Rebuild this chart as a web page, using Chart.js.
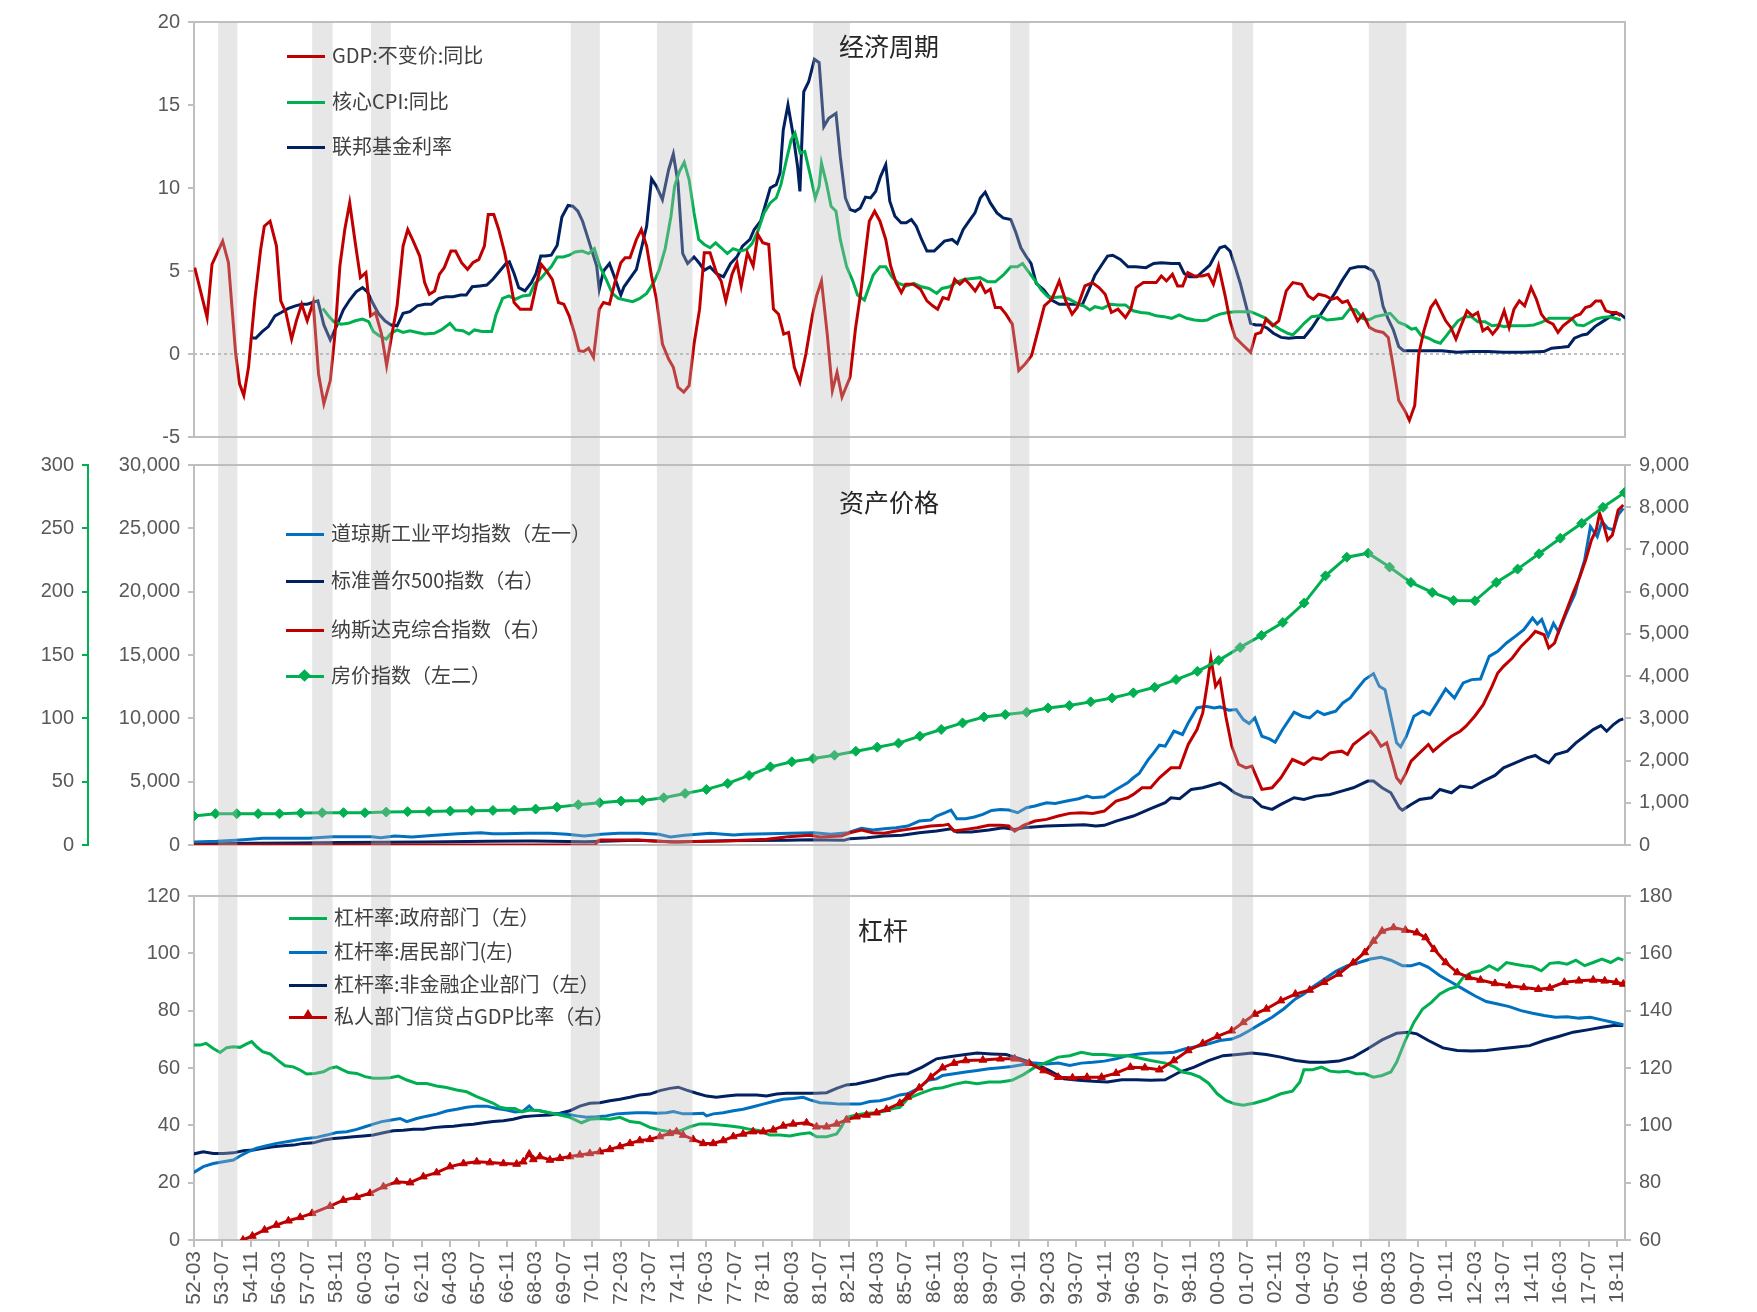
<!DOCTYPE html>
<html>
<head>
<meta charset="utf-8">
<script src="https://cdn.jsdelivr.net/npm/chart.js@4.4.0/dist/chart.umd.min.js"></script>
<style>
  body { margin: 0; background: #fff; width: 1757px; height: 1312px; position: relative; overflow: hidden;
         font-family: "Noto Sans CJK SC", "Liberation Sans", sans-serif; }
  canvas { position: absolute; left: 0; }
  .lg { position: absolute; font-size: 20px; color: #404040; white-space: nowrap; line-height: 24px; }
  .lg i { display: inline-block; width: 38px; height: 3px; vertical-align: middle; margin-right: 7px; position: relative; top: -1px; }
  .lg i b.dia { position: absolute; left: 14px; top: -4px; width: 9px; height: 9px; transform: rotate(45deg); background: #00b050; }
  .lg i b.tri { position: absolute; left: 13px; top: -7px; width: 0; height: 0; border-left: 6px solid transparent;
                border-right: 6px solid transparent; border-bottom: 10px solid #c00000; }
  .ttl { position: absolute; font-size: 25px; color: #262626; transform: translate(-50%, -50%); white-space: nowrap; }
</style>
</head>
<body>
<canvas id="c1" width="1757" height="460" style="top:0"></canvas>
<canvas id="c2" width="1757" height="430" style="top:440px"></canvas>
<canvas id="c3" width="1757" height="452" style="top:860px"></canvas>

<div class="ttl" style="left:889px;top:45px">经济周期</div>
<div class="lg" style="left:287px;top:43px"><i style="background:#c00000"></i>GDP:不变价:同比</div>
<div class="lg" style="left:287px;top:89px"><i style="background:#00b050"></i>核心CPI:同比</div>
<div class="lg" style="left:287px;top:134px"><i style="background:#002060"></i>联邦基金利率</div>

<div class="ttl" style="left:889px;top:501px">资产价格</div>
<div class="lg" style="left:286px;top:521px"><i style="background:#0070c0"></i>道琼斯工业平均指数（左一）</div>
<div class="lg" style="left:286px;top:568px"><i style="background:#002060"></i>标准普尔500指数（右）</div>
<div class="lg" style="left:286px;top:617px"><i style="background:#c00000"></i>纳斯达克综合指数（右）</div>
<div class="lg" style="left:286px;top:663px"><i style="background:#00b050"><b class="dia"></b></i>房价指数（左二）</div>

<div class="ttl" style="left:883px;top:929px">杠杆</div>
<div class="lg" style="left:289px;top:905px"><i style="background:#00b050"></i>杠杆率:政府部门（左）</div>
<div class="lg" style="left:289px;top:939px"><i style="background:#0070c0"></i>杠杆率:居民部门(左)</div>
<div class="lg" style="left:289px;top:972px"><i style="background:#002060"></i>杠杆率:非金融企业部门（左）</div>
<div class="lg" style="left:289px;top:1004px"><i style="background:#c00000"><b class="tri"></b></i>私人部门信贷占GDP比率（右）</div>

<script>
// x axis tick labels (every 16 months) and shaded recession periods (decimal years)
const xLabels = ['52-03','53-07','54-11','56-03','57-07','58-11','60-03','61-07','62-11','64-03','65-07','66-11',
  '68-03','69-07','70-11','72-03','73-07','74-11','76-03','77-07','78-11','80-03','81-07','82-11','84-03','85-07',
  '86-11','88-03','89-07','90-11','92-03','93-07','94-11','96-03','97-07','98-11','00-03','01-07','02-11','04-03',
  '05-07','06-11','08-03','09-07','10-11','12-03','13-07','14-11','16-03','17-07','18-11'];
const recessions = [[1953.30,1954.20],[1957.70,1958.66],[1960.46,1961.38],[1969.82,1971.18],[1973.85,1975.52],
  [1981.17,1982.89],[1990.40,1991.30],[2000.80,2001.78],[2007.20,2008.96]];

// 经济周期 (%)
const gdp = [[1952.2,5.2],[1952.78,2.2],[1953.01,5.4],[1953.51,6.8],[1953.78,5.5],[1954.12,0],[1954.3,-1.8],[1954.5,-2.5],[1954.72,-0.8],[1955.02,3.3],[1955.29,6.3],[1955.46,7.7],[1955.73,8.0],[1956.03,6.5],[1956.23,3.2],[1956.47,2.5],[1956.74,0.9],[1956.96,2.0],[1957.21,3.0],[1957.47,2.0],[1957.75,3.1],[1958.0,-1.2],[1958.25,-3.0],[1958.55,-1.6],[1958.77,1.2],[1959.0,5.3],[1959.23,7.5],[1959.46,9.1],[1959.72,6.7],[1959.96,4.6],[1960.22,4.9],[1960.44,2.3],[1960.67,2.5],[1960.95,1.2],[1961.19,-0.7],[1961.44,1.2],[1961.68,2.9],[1961.96,6.5],[1962.18,7.5],[1962.4,6.9],[1962.74,5.9],[1962.97,4.3],[1963.19,3.6],[1963.44,3.8],[1963.66,4.8],[1963.89,5.2],[1964.2,6.2],[1964.42,6.2],[1964.7,5.5],[1964.98,5.1],[1965.23,5.5],[1965.51,5.7],[1965.77,6.5],[1965.95,8.4],[1966.21,8.4],[1966.44,7.5],[1966.72,6.1],[1966.94,4.7],[1967.16,3.1],[1967.45,2.7],[1967.72,2.7],[1967.95,2.7],[1968.19,4.1],[1968.43,5.4],[1968.68,5.0],[1968.95,4.5],[1969.24,3.1],[1969.49,3.0],[1969.74,2.3],[1969.98,1.3],[1970.2,0.2],[1970.42,0.15],[1970.65,0.35],[1970.88,-0.2],[1971.15,2.7],[1971.35,3.1],[1971.63,3.0],[1971.88,4.3],[1972.16,5.5],[1972.36,5.8],[1972.59,5.8],[1972.89,6.9],[1973.12,7.5],[1973.37,6.5],[1973.6,4.7],[1973.83,3.3],[1974.11,0.6],[1974.4,-0.3],[1974.62,-0.8],[1974.84,-2.0],[1975.11,-2.3],[1975.36,-1.9],[1975.59,0.6],[1975.85,2.7],[1976.07,6.1],[1976.34,6.1],[1976.64,4.9],[1976.86,4.4],[1977.08,3.2],[1977.37,4.8],[1977.6,5.5],[1977.8,4.1],[1978.09,6.1],[1978.36,5.3],[1978.58,7.2],[1978.81,6.7],[1979.09,6.6],[1979.31,2.7],[1979.55,2.4],[1979.79,1.2],[1980.02,1.3],[1980.29,-0.8],[1980.55,-1.7],[1980.83,0],[1981.13,2.3],[1981.33,3.5],[1981.56,4.4],[1981.83,1.2],[1982.07,-2.2],[1982.29,-1.1],[1982.52,-2.6],[1982.9,-1.4],[1983.15,1.5],[1983.4,3.7],[1983.6,5.9],[1983.8,8.0],[1984.05,8.6],[1984.3,8.0],[1984.57,6.9],[1984.8,5.3],[1985.05,4.3],[1985.3,3.7],[1985.5,4.2],[1985.87,4.2],[1986.2,3.9],[1986.5,3.2],[1986.77,2.9],[1987.0,2.7],[1987.25,3.4],[1987.5,3.3],[1987.8,4.5],[1988.04,4.2],[1988.28,4.5],[1988.5,4.2],[1988.76,3.8],[1989.0,4.3],[1989.24,3.7],[1989.47,3.9],[1989.7,2.8],[1989.95,2.8],[1990.2,2.4],[1990.5,1.8],[1990.8,-1.0],[1991.1,-0.6],[1991.4,-0.1],[1991.7,1.4],[1992.0,2.9],[1992.35,3.3],[1992.7,4.4],[1993.0,3.2],[1993.3,2.4],[1993.54,2.8],[1993.9,4.1],[1994.25,4.3],[1994.56,4.0],[1994.85,3.6],[1995.14,2.5],[1995.45,2.7],[1995.8,2.2],[1996.05,2.7],[1996.3,4.0],[1996.64,4.3],[1996.88,4.3],[1997.24,4.3],[1997.48,4.7],[1997.72,4.4],[1998.0,4.8],[1998.24,4.1],[1998.48,4.1],[1998.72,4.9],[1999.03,4.7],[1999.4,4.7],[1999.68,4.8],[1999.92,4.2],[2000.16,5.3],[2000.47,3.5],[2000.7,2.0],[2000.94,1.0],[2001.25,0.6],[2001.66,0.1],[2001.9,1.2],[2002.14,1.3],[2002.38,2.1],[2002.7,1.7],[2002.98,2.0],[2003.33,3.8],[2003.64,4.3],[2004.05,4.2],[2004.36,3.5],[2004.6,3.3],[2004.84,3.6],[2005.17,3.5],[2005.48,3.3],[2005.72,3.4],[2005.96,3.1],[2006.2,3.2],[2006.49,2.5],[2006.68,2.0],[2006.92,2.4],[2007.23,1.6],[2007.52,1.4],[2007.87,1.3],[2008.11,1.0],[2008.35,-0.8],[2008.6,-2.8],[2008.88,-3.4],[2009.1,-4.0],[2009.35,-3.1],[2009.54,0.0],[2009.78,1.4],[2010.1,2.8],[2010.33,3.2],[2010.57,2.6],[2010.8,2.0],[2011.04,1.6],[2011.28,0.9],[2011.52,1.7],[2011.8,2.6],[2012.05,2.3],[2012.3,2.5],[2012.54,1.4],[2012.77,1.6],[2013.0,1.2],[2013.25,1.6],[2013.54,2.6],[2013.77,1.6],[2014.0,2.7],[2014.25,3.2],[2014.5,2.9],[2014.8,4.0],[2015.05,3.3],[2015.28,2.4],[2015.52,2.0],[2015.83,1.8],[2016.06,1.3],[2016.3,1.7],[2016.6,2.0],[2016.88,2.3],[2017.1,2.4],[2017.35,2.8],[2017.6,2.9],[2017.83,3.2],[2018.07,3.2],[2018.3,2.6],[2018.55,2.5],[2018.8,2.5],[2019.0,2.3]];
const coreCpi = [[1958.2,2.75],[1958.49,2.25],[1958.71,1.95],[1959.06,1.8],[1959.39,1.85],[1959.72,2.0],[1960.06,2.1],[1960.35,1.95],[1960.57,1.35],[1960.84,1.1],[1961.17,0.9],[1961.4,1.25],[1961.68,1.45],[1961.96,1.3],[1962.28,1.4],[1962.63,1.3],[1962.97,1.2],[1963.42,1.25],[1963.75,1.45],[1964.16,1.85],[1964.42,1.45],[1964.76,1.4],[1965.05,1.2],[1965.3,1.45],[1965.66,1.35],[1966.11,1.35],[1966.31,2.35],[1966.62,3.35],[1966.92,3.5],[1967.22,3.3],[1967.56,3.5],[1967.89,3.55],[1968.13,4.25],[1968.41,4.55],[1968.68,4.95],[1968.9,5.25],[1969.18,5.85],[1969.47,5.85],[1969.74,5.95],[1970.02,6.15],[1970.35,6.2],[1970.65,6.05],[1970.92,6.35],[1971.19,5.25],[1971.49,4.45],[1971.76,3.65],[1972.04,3.35],[1972.36,3.25],[1972.72,3.15],[1973.05,3.35],[1973.37,3.65],[1973.72,4.35],[1973.95,5.05],[1974.24,6.35],[1974.51,8.3],[1974.68,10.1],[1974.91,11.0],[1975.13,11.55],[1975.36,10.5],[1975.59,8.5],[1975.81,6.9],[1976.07,6.6],[1976.34,6.4],[1976.6,6.7],[1976.86,6.4],[1977.15,6.05],[1977.42,6.35],[1977.75,6.2],[1978.05,6.3],[1978.31,6.65],[1978.58,7.4],[1978.87,8.5],[1979.16,9.1],[1979.44,9.4],[1979.66,10.2],[1979.92,11.7],[1980.14,12.9],[1980.32,13.3],[1980.56,12.1],[1980.78,12.2],[1981.05,10.7],[1981.27,9.4],[1981.45,10.1],[1981.56,11.5],[1981.79,10.3],[1982.01,8.9],[1982.24,8.6],[1982.44,6.9],[1982.74,5.25],[1983.01,4.45],[1983.25,3.55],[1983.57,3.25],[1983.98,4.75],[1984.29,5.25],[1984.57,5.25],[1984.86,4.65],[1985.17,4.25],[1985.53,4.1],[1985.89,4.25],[1986.25,4.05],[1986.6,3.95],[1986.96,3.65],[1987.2,3.95],[1987.56,4.05],[1987.92,4.35],[1988.28,4.5],[1988.63,4.55],[1988.99,4.6],[1989.35,4.35],[1989.7,4.35],[1990.07,4.75],[1990.43,5.25],[1990.74,5.25],[1990.98,5.45],[1991.26,4.95],[1991.55,4.45],[1991.86,3.85],[1992.17,3.45],[1992.46,3.4],[1992.82,3.45],[1993.17,3.3],[1993.53,3.05],[1993.84,2.9],[1994.13,2.65],[1994.37,2.85],[1994.73,2.75],[1995.1,3.0],[1995.45,2.95],[1995.8,2.95],[1996.16,2.6],[1996.52,2.5],[1996.88,2.45],[1997.24,2.3],[1997.6,2.25],[1997.96,2.15],[1998.32,2.35],[1998.67,2.15],[1999.03,2.05],[1999.4,2.0],[1999.63,2.05],[1999.92,2.25],[2000.23,2.4],[2000.58,2.5],[2000.94,2.55],[2001.3,2.55],[2001.66,2.55],[2002.02,2.35],[2002.38,2.15],[2002.73,1.75],[2003.09,1.45],[2003.4,1.25],[2003.64,1.15],[2003.88,1.45],[2004.17,1.85],[2004.52,2.25],[2004.88,2.3],[2005.24,2.05],[2005.6,2.1],[2005.96,2.15],[2006.3,2.7],[2006.6,2.65],[2006.9,2.15],[2007.2,2.05],[2007.5,2.25],[2007.87,2.35],[2008.2,2.45],[2008.6,1.9],[2008.9,1.75],[2009.2,1.5],[2009.4,1.55],[2009.66,1.1],[2010.0,0.95],[2010.3,0.75],[2010.55,0.65],[2010.8,1.05],[2011.1,1.55],[2011.38,2.0],[2011.7,2.25],[2012.0,2.25],[2012.3,1.95],[2012.65,1.95],[2012.97,1.7],[2013.25,1.75],[2013.54,1.65],[2013.85,1.7],[2014.2,1.7],[2014.56,1.7],[2014.92,1.75],[2015.28,1.9],[2015.64,2.15],[2016.0,2.15],[2016.35,2.15],[2016.7,2.15],[2016.95,1.75],[2017.26,1.7],[2017.55,1.9],[2017.83,2.1],[2018.14,2.2],[2018.46,2.25],[2018.74,2.15],[2019.0,2.05]];
const fedFunds = [[1954.79,1.0],[1955.06,0.95],[1955.36,1.35],[1955.65,1.65],[1955.96,2.3],[1956.25,2.5],[1956.59,2.75],[1956.92,2.9],[1957.21,3.0],[1957.47,3.0],[1957.82,3.15],[1957.97,3.2],[1958.25,1.75],[1958.55,0.85],[1958.87,1.75],[1959.16,2.65],[1959.46,3.25],[1959.76,3.75],[1960.06,4.0],[1960.29,3.75],[1960.51,3.15],[1960.8,2.45],[1961.11,2.0],[1961.4,1.75],[1961.68,1.7],[1961.96,2.45],[1962.28,2.55],[1962.63,2.9],[1962.97,3.0],[1963.29,3.0],[1963.64,3.35],[1963.97,3.45],[1964.3,3.45],[1964.65,3.55],[1964.92,3.55],[1965.2,4.05],[1965.55,4.1],[1965.88,4.15],[1966.17,4.5],[1966.49,5.0],[1966.78,5.45],[1966.94,5.55],[1967.16,4.85],[1967.38,4.0],[1967.67,3.8],[1967.97,4.3],[1968.19,4.85],[1968.41,5.9],[1968.63,5.9],[1968.9,5.95],[1969.18,6.55],[1969.4,8.25],[1969.69,8.95],[1969.91,8.9],[1970.15,8.6],[1970.37,8.0],[1970.59,7.1],[1970.81,6.2],[1971.03,5.3],[1971.15,3.9],[1971.35,5.0],[1971.63,5.45],[1971.86,4.65],[1972.16,3.55],[1972.31,4.05],[1972.59,4.55],[1972.89,5.1],[1973.16,6.55],[1973.37,7.7],[1973.6,10.55],[1973.83,10.1],[1974.11,9.3],[1974.4,11.1],[1974.62,12.05],[1974.84,10.3],[1975.06,6.05],[1975.29,5.45],[1975.59,5.85],[1975.85,5.45],[1976.07,5.05],[1976.34,5.25],[1976.64,4.85],[1976.97,4.65],[1977.3,5.45],[1977.6,5.85],[1977.86,6.5],[1978.21,6.9],[1978.41,7.5],[1978.71,8.0],[1979.16,10.0],[1979.44,10.2],[1979.62,10.9],[1979.77,13.5],[1979.99,15.0],[1980.22,13.3],[1980.44,11.3],[1980.55,9.8],[1980.73,15.8],[1980.96,16.4],[1981.23,17.75],[1981.45,17.55],[1981.67,13.7],[1981.9,14.2],[1982.24,14.5],[1982.44,11.9],[1982.68,9.4],[1982.9,8.7],[1983.14,8.6],[1983.38,8.8],[1983.62,9.45],[1983.86,9.4],[1984.1,9.8],[1984.33,10.7],[1984.57,11.4],[1984.76,9.2],[1985.0,8.3],[1985.29,7.9],[1985.53,7.9],[1985.77,8.1],[1986.0,7.7],[1986.25,6.9],[1986.5,6.2],[1986.84,6.2],[1987.08,6.5],[1987.32,6.8],[1987.68,6.9],[1987.92,6.65],[1988.2,7.5],[1988.52,8.1],[1988.75,8.5],[1989.0,9.4],[1989.23,9.75],[1989.47,9.1],[1989.78,8.5],[1990.07,8.2],[1990.43,8.1],[1990.67,7.3],[1990.9,6.4],[1991.14,5.9],[1991.38,5.45],[1991.62,4.25],[1991.98,3.85],[1992.34,3.25],[1992.7,3.0],[1993.17,3.0],[1993.53,3.0],[1993.77,2.95],[1994.08,3.85],[1994.37,4.75],[1994.73,5.45],[1994.96,5.9],[1995.2,5.95],[1995.56,5.7],[1995.92,5.25],[1996.28,5.25],[1996.76,5.2],[1997.12,5.45],[1997.48,5.5],[1997.96,5.45],[1998.32,5.45],[1998.55,4.85],[1998.79,4.65],[1999.15,4.65],[1999.44,5.0],[1999.75,5.35],[1999.98,5.9],[2000.22,6.4],[2000.46,6.5],[2000.7,6.2],[2000.94,5.25],[2001.18,4.25],[2001.42,3.05],[2001.66,1.85],[2001.9,1.75],[2002.14,1.75],[2002.45,1.55],[2002.73,1.25],[2003.09,1.0],[2003.45,0.95],[2003.81,1.0],[2004.17,1.0],[2004.52,1.55],[2004.88,2.25],[2005.24,2.95],[2005.6,3.65],[2005.96,4.45],[2006.32,5.15],[2006.68,5.25],[2007.04,5.25],[2007.4,5.0],[2007.64,4.35],[2007.87,2.85],[2008.11,2.1],[2008.35,1.45],[2008.6,0.45],[2008.83,0.2],[2009.2,0.2],[2009.9,0.2],[2010.62,0.2],[2011.34,0.1],[2012.05,0.15],[2012.77,0.15],[2013.49,0.1],[2014.44,0.1],[2015.4,0.15],[2015.76,0.35],[2016.23,0.4],[2016.54,0.45],[2016.83,0.95],[2017.2,1.15],[2017.43,1.2],[2017.79,1.65],[2018.15,1.95],[2018.5,2.25],[2018.74,2.45],[2018.98,2.4],[2019.22,2.15]];

// 资产价格
const dow = [[1952.17,236],[1953.24,290],[1954.32,395],[1955.4,525],[1956.47,525],[1957.54,525],[1958.62,657],[1959.42,657],[1960.5,657],[1960.9,578],[1961.58,709],[1962.38,630],[1963.46,762],[1964.53,893],[1965.61,972],[1966.15,893],[1966.68,893],[1967.76,919],[1968.83,919],[1969.64,840],[1970.45,709],[1971.25,840],[1972.06,919],[1973.13,919],[1973.94,840],[1974.48,630],[1975.15,762],[1976.36,919],[1977.44,788],[1977.97,840],[1979.05,893],[1980.12,919],[1981.2,972],[1982.0,840],[1982.8,972],[1983.43,1313],[1983.97,1182],[1984.5,1287],[1985.06,1366],[1985.6,1497],[1986.14,1891],[1986.68,1970],[1986.95,2285],[1987.36,2548],[1987.63,2758],[1987.9,2075],[1988.31,2075],[1988.72,2207],[1989.12,2417],[1989.53,2732],[1989.94,2811],[1990.34,2758],[1990.75,2548],[1991.16,2942],[1991.56,3074],[1992.1,3336],[1992.51,3284],[1993.05,3468],[1993.6,3651],[1994.0,3862],[1994.27,3730],[1994.81,3809],[1995.36,4387],[1995.9,4912],[1996.17,5306],[1996.44,5648],[1996.85,6699],[1997.12,7277],[1997.39,7881],[1997.66,7802],[1998.07,8984],[1998.47,8722],[1998.74,9641],[1999.15,10823],[1999.56,10955],[1999.96,10823],[2000.23,10902],[2000.64,10639],[2000.99,10692],[2001.32,9904],[2001.59,9589],[2001.86,10035],[2002.19,8590],[2002.54,8380],[2002.81,8117],[2003.16,9116],[2003.7,10482],[2004.08,10167],[2004.43,10035],[2004.79,10561],[2005.11,10298],[2005.65,10561],[2005.98,11217],[2006.33,11611],[2006.6,12216],[2007.01,13056],[2007.42,13529],[2007.69,12531],[2007.96,12268],[2008.23,10167],[2008.5,8065],[2008.69,7750],[2008.96,8590],[2009.31,10167],[2009.72,10561],[2010.05,10298],[2010.4,11217],[2010.8,12320],[2011.21,11611],[2011.62,12793],[2012.02,13056],[2012.43,13109],[2012.84,14895],[2013.24,15289],[2013.65,15946],[2014.06,16471],[2014.46,16996],[2014.87,17916],[2015.09,17450],[2015.3,17800],[2015.6,16500],[2015.85,17500],[2016.09,16800],[2016.4,18100],[2016.63,19000],[2016.85,19800],[2017.04,21000],[2017.31,22500],[2017.58,25140],[2017.9,24352],[2018.12,25534],[2018.39,25009],[2018.66,24878],[2018.88,26060],[2019.12,26585]];
const spx = [[1952.17,24],[1955,40],[1957,45],[1959,58],[1961,65],[1963,70],[1966,90],[1968,95],[1970.5,75],[1972.9,115],[1974.8,70],[1977,100],[1980,110],[1981,125],[1982.6,110],[1982.89,150],[1983.7,173],[1984.5,213],[1985.33,229],[1986.14,292],[1986.95,331],[1987.63,386],[1987.9,307],[1988.58,307],[1989.4,355],[1990.07,410],[1990.61,370],[1991.02,410],[1992.1,449],[1993.19,465],[1993.87,481],[1994.41,449],[1994.81,465],[1995.36,567],[1996.17,686],[1996.98,859],[1997.66,1001],[1997.93,1119],[1998.34,1095],[1998.88,1316],[1999.42,1355],[1999.96,1434],[2000.23,1474],[2000.5,1395],[2000.91,1237],[2001.32,1143],[2001.72,1119],[2002.19,906],[2002.67,843],[2003.08,961],[2003.7,1119],[2004.16,1080],[2004.71,1158],[2005.38,1198],[2005.93,1277],[2006.47,1355],[2007.15,1513],[2007.42,1513],[2007.82,1355],[2008.23,1237],[2008.63,883],[2008.77,827],[2009.18,961],[2009.58,1080],[2010.13,1119],[2010.53,1316],[2011.07,1237],[2011.48,1395],[2012.02,1355],[2012.56,1513],[2013.11,1647],[2013.51,1828],[2014.06,1946],[2014.6,2065],[2015.0,2120],[2015.28,2025],[2015.63,1946],[2015.95,2143],[2016.5,2222],[2016.9,2419],[2017.31,2577],[2017.71,2734],[2018.07,2829],[2018.34,2695],[2018.66,2853],[2018.93,2955],[2019.12,2987]];
const nasdaq = [[1952.17,0],[1970.95,0],[1971.1,100],[1971.2,118],[1973,118],[1974.5,70],[1975,79],[1977,95],[1979,134],[1980,197],[1981,229],[1981.5,189],[1982.5,213],[1982.89,290],[1983.43,355],[1983.97,292],[1984.5,276],[1985.06,331],[1985.6,370],[1986.14,410],[1986.68,449],[1987.23,465],[1987.5,489],[1987.77,331],[1988.31,370],[1988.85,410],[1989.4,465],[1989.94,465],[1990.34,449],[1990.61,331],[1991.02,465],[1991.56,567],[1992.1,607],[1992.65,686],[1993.19,749],[1993.73,764],[1994.27,749],[1994.81,804],[1995.36,1040],[1995.9,1119],[1996.17,1198],[1996.58,1355],[1996.98,1355],[1997.39,1592],[1997.93,1828],[1998.34,1828],[1998.74,2380],[1999.15,2734],[1999.42,3128],[1999.64,3838],[1999.8,4429],[2000.02,3759],[2000.23,3916],[2000.5,3050],[2000.78,2340],[2001.1,1907],[2001.45,1828],[2001.72,1868],[2002.19,1316],[2002.67,1355],[2003.08,1592],[2003.62,2025],[2004.16,1907],[2004.57,2065],[2004.98,2025],[2005.38,2183],[2005.93,2222],[2006.2,2143],[2006.47,2380],[2006.87,2537],[2007.28,2695],[2007.5,2561],[2007.77,2340],[2008.04,2419],[2008.31,1946],[2008.5,1592],[2008.69,1474],[2008.91,1671],[2009.18,1986],[2009.58,2183],[2009.99,2380],[2010.21,2222],[2010.67,2419],[2011.07,2577],[2011.48,2695],[2011.75,2813],[2012.16,3050],[2012.56,3325],[2012.97,3759],[2013.24,4074],[2013.51,4232],[2013.92,4429],[2014.33,4704],[2014.73,4901],[2015.0,5059],[2015.41,4980],[2015.63,4665],[2015.9,4783],[2016.17,5177],[2016.44,5532],[2016.77,5965],[2017.09,6359],[2017.36,6753],[2017.63,7226],[2017.85,7462],[2018.01,7856],[2018.2,7581],[2018.39,7226],[2018.61,7344],[2018.88,7935],[2019.12,8053]];
const housePrice = [[1952.17,22.9],[1953.17,24.7],[1954.17,24.7],[1955.17,24.7],[1956.17,24.7],[1957.17,25.2],[1958.17,25.5],[1959.17,25.5],[1960.17,25.5],[1961.17,26.0],[1962.17,26.3],[1963.17,26.5],[1964.17,26.8],[1965.17,27.1],[1966.17,27.3],[1967.17,27.6],[1968.17,28.4],[1969.17,29.9],[1970.17,31.8],[1971.17,33.4],[1972.17,34.7],[1973.17,35.2],[1974.17,37.3],[1975.17,40.7],[1976.17,43.9],[1977.17,48.6],[1978.17,54.9],[1979.17,61.7],[1980.17,65.7],[1981.17,68.3],[1982.17,70.9],[1983.17,74.0],[1984.17,77.2],[1985.17,80.4],[1986.17,85.9],[1987.17,91.2],[1988.17,96.4],[1989.17,101.1],[1990.17,103.0],[1991.17,104.8],[1992.17,108.2],[1993.17,110.1],[1994.17,113.0],[1995.17,116.1],[1996.17,120.1],[1997.17,124.5],[1998.17,130.6],[1999.17,137.1],[2000.17,145.8],[2001.17,156.0],[2002.17,165.5],[2003.17,175.7],[2004.17,191.0],[2005.17,212.5],[2006.17,227.2],[2007.17,230.4],[2008.17,219.4],[2009.17,207.3],[2010.17,199.4],[2011.17,193.1],[2012.17,192.8],[2013.17,207.3],[2014.17,217.8],[2015.17,229.9],[2016.17,242.2],[2017.17,254.0],[2018.17,266.6],[2019.17,278.2]];

// 杠杆 (%)
const govLev = [[1952.14,68.0],[1952.45,68.0],[1952.73,68.6],[1953.07,66.8],[1953.39,65.4],[1953.7,67.1],[1954.01,67.4],[1954.32,67.2],[1954.63,68.4],[1954.87,69.2],[1955.1,67.4],[1955.38,65.7],[1955.73,64.9],[1956.04,63.0],[1956.43,60.8],[1956.82,60.4],[1957.13,59.3],[1957.44,57.9],[1957.83,58.1],[1958.23,58.7],[1958.54,59.9],[1958.85,60.4],[1959.08,59.5],[1959.4,58.4],[1959.79,58.1],[1960.18,57.0],[1960.57,56.4],[1960.96,56.4],[1961.35,56.6],[1961.74,57.2],[1962.13,55.8],[1962.6,54.6],[1963.07,54.6],[1963.53,53.7],[1964.0,53.2],[1964.47,52.3],[1964.94,51.7],[1965.41,50.0],[1965.88,48.6],[1966.19,47.7],[1966.5,46.3],[1966.81,45.9],[1967.2,45.9],[1967.51,44.7],[1967.91,45.3],[1968.22,45.3],[1968.84,44.4],[1969.31,43.6],[1969.78,42.8],[1970.32,40.9],[1970.71,42.1],[1971.18,42.4],[1971.65,42.1],[1972.12,42.8],[1972.59,41.3],[1973.05,40.9],[1973.52,39.3],[1973.99,38.4],[1974.46,37.8],[1974.93,38.1],[1975.4,39.5],[1975.86,40.5],[1976.33,40.5],[1976.8,40.1],[1977.27,39.8],[1977.74,39.3],[1978.21,38.6],[1978.67,38.1],[1979.14,36.6],[1979.61,36.6],[1980.08,36.3],[1980.55,37.0],[1981.02,37.4],[1981.33,36.0],[1981.8,36.0],[1982.27,37.0],[1982.5,39.5],[1982.73,42.8],[1983.2,43.6],[1983.67,44.2],[1984.14,44.4],[1984.61,45.1],[1984.92,45.9],[1985.23,46.3],[1985.6,49.3],[1986.14,51.0],[1986.82,52.8],[1987.23,53.1],[1987.77,54.3],[1988.31,55.1],[1988.85,54.5],[1989.4,55.1],[1989.94,55.1],[1990.48,55.7],[1991.02,57.7],[1991.56,60.3],[1992.1,62.0],[1992.65,63.8],[1993.19,64.3],[1993.73,65.5],[1994.27,64.7],[1994.81,64.7],[1995.36,64.3],[1995.9,64.3],[1996.44,63.5],[1996.98,62.6],[1997.66,61.7],[1998.07,60.5],[1998.47,58.6],[1998.88,58.0],[1999.29,56.8],[1999.69,54.7],[2000.1,51.0],[2000.5,48.7],[2000.91,47.5],[2001.32,47.0],[2001.86,47.8],[2002.4,48.9],[2003.08,51.0],[2003.62,51.9],[2003.97,55.1],[2004.16,59.4],[2004.57,59.4],[2004.98,60.3],[2005.38,58.9],[2005.79,58.6],[2006.2,58.9],[2006.6,58.0],[2007.01,58.0],[2007.42,56.8],[2007.82,57.4],[2008.23,58.6],[2008.5,62.0],[2008.91,69.6],[2009.31,75.9],[2009.72,80.6],[2010.13,82.9],[2010.53,85.8],[2010.94,87.5],[2011.29,88.3],[2011.62,91.6],[2012.02,93.3],[2012.43,93.9],[2012.84,95.7],[2013.24,94.1],[2013.65,96.8],[2014.06,96.2],[2014.46,95.7],[2014.87,95.3],[2015.28,93.9],[2015.68,96.5],[2016.09,96.8],[2016.49,96.2],[2016.9,97.6],[2017.31,95.7],[2017.71,96.8],[2018.12,98.0],[2018.53,96.8],[2018.88,98.3],[2019.12,97.6]];
const hhLev = [[1952.14,23.5],[1952.6,25.6],[1953.07,26.7],[1953.54,27.3],[1954.01,27.9],[1954.32,29.3],[1954.71,30.8],[1955.1,32.0],[1955.57,32.9],[1956.04,33.7],[1956.51,34.3],[1956.98,34.9],[1957.44,35.4],[1957.91,35.8],[1958.38,36.6],[1958.85,37.5],[1959.32,37.8],[1959.79,38.6],[1960.18,39.5],[1960.57,40.4],[1960.96,41.3],[1961.35,41.8],[1961.82,42.4],[1962.13,41.3],[1962.6,42.4],[1963.07,43.2],[1963.53,43.9],[1964.0,45.0],[1964.47,45.6],[1964.94,46.3],[1965.41,46.7],[1965.88,46.7],[1966.35,45.9],[1966.81,45.3],[1967.2,44.7],[1967.59,45.0],[1967.87,46.7],[1968.06,45.3],[1968.37,45.1],[1968.84,44.2],[1969.31,44.0],[1969.85,43.6],[1970.09,43.3],[1970.56,42.8],[1971.02,43.0],[1971.49,43.3],[1971.96,44.0],[1972.43,44.2],[1972.9,44.4],[1973.37,44.4],[1973.83,44.2],[1974.3,44.4],[1974.62,44.8],[1975.08,44.0],[1975.55,44.0],[1976.02,44.2],[1976.18,43.3],[1976.49,44.0],[1976.96,44.4],[1977.43,45.1],[1977.89,45.6],[1978.36,46.5],[1978.83,47.4],[1979.3,48.3],[1979.77,49.1],[1980.23,49.4],[1980.7,49.8],[1981.02,48.9],[1981.49,47.9],[1981.95,47.7],[1982.42,47.4],[1982.89,47.4],[1983.36,47.4],[1983.83,48.3],[1984.3,48.6],[1984.76,49.4],[1985.23,50.6],[1985.6,51.0],[1986.14,53.1],[1986.55,55.7],[1986.95,56.2],[1987.23,57.4],[1987.77,58.0],[1988.31,58.6],[1988.85,59.1],[1989.4,59.7],[1989.94,60.1],[1990.48,60.5],[1991.02,61.2],[1991.56,61.7],[1992.1,61.4],[1992.65,61.7],[1993.19,60.9],[1993.73,61.7],[1994.27,62.0],[1994.81,62.4],[1995.36,63.2],[1995.9,64.3],[1996.44,64.9],[1996.98,65.2],[1997.52,65.2],[1998.07,65.5],[1998.61,66.7],[1999.15,67.5],[1999.69,68.4],[2000.23,69.6],[2000.78,70.1],[2001.18,71.3],[2001.59,73.0],[2002.13,75.4],[2002.67,77.7],[2003.21,80.6],[2003.76,84.1],[2004.16,85.8],[2004.57,88.3],[2005.11,91.0],[2005.65,93.7],[2006.2,95.7],[2006.74,96.8],[2007.28,98.0],[2007.77,98.6],[2008.23,97.6],[2008.77,95.7],[2009.18,95.7],[2009.58,96.5],[2009.99,95.1],[2010.53,92.2],[2011.07,89.9],[2011.62,87.5],[2012.16,85.2],[2012.7,83.2],[2013.24,82.3],[2013.78,81.4],[2014.33,80.0],[2014.87,79.1],[2015.41,78.3],[2015.95,77.7],[2016.49,77.9],[2017.04,77.4],[2017.58,77.7],[2018.12,76.8],[2018.66,75.9],[2019.12,75.1]];
const corpLev = [[1952.14,30.0],[1952.6,30.8],[1953.07,30.2],[1953.54,30.2],[1954.01,30.4],[1954.48,31.1],[1954.95,31.4],[1955.41,32.0],[1955.88,32.5],[1956.35,32.9],[1956.82,33.1],[1957.29,33.7],[1957.76,33.9],[1958.23,34.9],[1958.7,35.4],[1959.16,35.7],[1959.63,36.0],[1960.1,36.3],[1960.57,36.6],[1961.04,37.4],[1961.5,38.1],[1961.97,38.3],[1962.44,38.6],[1962.91,38.6],[1963.38,39.2],[1963.85,39.5],[1964.32,39.7],[1964.79,40.1],[1965.25,40.4],[1965.72,40.9],[1966.19,41.3],[1966.66,41.6],[1967.12,42.1],[1967.59,43.0],[1968.06,43.3],[1968.84,43.6],[1969.31,44.2],[1969.78,45.1],[1970.24,46.7],[1970.71,47.7],[1971.18,47.9],[1971.65,48.6],[1972.12,49.1],[1972.59,49.8],[1973.05,50.6],[1973.52,50.9],[1973.99,52.1],[1974.46,52.9],[1974.85,53.3],[1975.24,52.3],[1975.71,51.2],[1976.18,50.2],[1976.64,49.8],[1977.11,50.2],[1977.58,50.6],[1978.05,50.6],[1978.52,50.6],[1978.99,50.2],[1979.46,50.9],[1979.92,51.2],[1980.39,51.2],[1980.86,51.2],[1981.33,51.2],[1981.8,51.4],[1982.27,52.9],[1982.73,54.1],[1983.2,54.4],[1983.67,55.2],[1984.14,56.0],[1984.61,57.0],[1985.23,57.8],[1985.6,58.0],[1986.28,60.3],[1986.95,63.2],[1987.63,64.0],[1988.31,64.7],[1988.85,65.2],[1989.53,64.9],[1990.21,64.7],[1990.88,63.2],[1991.56,61.4],[1992.24,59.1],[1992.92,56.2],[1993.6,55.7],[1994.27,55.4],[1994.95,55.1],[1995.63,55.9],[1996.3,55.9],[1996.98,55.7],[1997.66,55.9],[1998.34,58.6],[1999.02,60.3],[1999.69,62.6],[2000.37,64.3],[2001.05,64.7],[2001.72,65.2],[2002.4,64.7],[2003.08,63.8],[2003.76,62.6],[2004.43,62.0],[2005.11,62.0],[2005.79,62.4],[2006.47,63.8],[2007.15,66.7],[2007.82,69.8],[2008.5,72.1],[2009.04,72.5],[2009.45,71.9],[2009.99,69.6],[2010.67,67.0],[2011.34,66.1],[2012.02,65.9],[2012.7,66.1],[2013.38,66.7],[2014.06,67.2],[2014.73,67.8],[2015.41,69.6],[2016.09,71.0],[2016.77,72.5],[2017.45,73.3],[2018.12,74.2],[2018.66,74.8],[2019.12,74.8]];
const privCredit = [[1954.46,60.0],[1954.9,61.4],[1955.47,63.5],[1956.02,65.2],[1956.59,66.7],[1957.14,67.9],[1957.7,69.3],[1958.54,71.8],[1959.16,73.9],[1959.79,74.9],[1960.41,76.3],[1961.04,78.6],[1961.66,80.3],[1962.29,80.0],[1962.91,82.1],[1963.53,83.5],[1964.16,85.6],[1964.79,86.7],[1965.41,87.3],[1966.03,87.0],[1966.66,86.7],[1967.28,86.5],[1967.59,87.3],[1967.87,90.0],[1968.06,88.1],[1968.37,89.1],[1968.84,87.9],[1969.31,88.5],[1969.78,89.1],[1970.24,89.7],[1970.71,90.2],[1971.18,90.8],[1971.65,91.6],[1972.12,92.6],[1972.59,93.7],[1973.05,94.7],[1973.52,95.1],[1973.99,96.1],[1974.46,97.2],[1974.77,97.8],[1975.08,96.6],[1975.55,95.1],[1976.02,93.7],[1976.49,93.7],[1976.96,94.7],[1977.43,96.1],[1977.89,97.0],[1978.36,97.8],[1978.83,97.8],[1979.3,98.4],[1979.77,99.8],[1980.23,100.5],[1980.86,100.9],[1981.33,99.5],[1981.8,99.5],[1982.27,100.5],[1982.73,101.9],[1983.2,103.0],[1983.67,103.6],[1984.14,104.4],[1984.61,105.6],[1985.23,107.7],[1985.6,109.9],[1986.14,113.1],[1986.68,116.8],[1987.23,120.1],[1987.77,121.7],[1988.31,122.6],[1989.12,122.8],[1989.94,123.2],[1990.61,123.2],[1991.29,121.7],[1991.97,119.1],[1992.65,116.8],[1993.32,116.6],[1994.0,116.8],[1994.68,116.8],[1995.36,118.2],[1996.03,120.3],[1996.71,120.1],[1997.39,119.4],[1998.07,122.6],[1998.74,126.1],[1999.42,128.6],[2000.1,131.0],[2000.78,133.0],[2001.32,135.9],[2001.86,138.8],[2002.4,140.6],[2003.08,143.5],[2003.76,145.8],[2004.43,147.2],[2005.11,149.9],[2005.79,152.8],[2006.47,156.8],[2007.01,160.3],[2007.42,164.3],[2007.82,167.8],[2008.36,169.0],[2008.91,168.1],[2009.45,167.2],[2009.86,165.5],[2010.26,161.4],[2010.8,156.8],[2011.34,153.3],[2011.89,151.6],[2012.43,150.7],[2013.11,149.5],[2013.78,148.7],[2014.46,148.1],[2015.14,147.5],[2015.68,147.9],[2016.36,149.9],[2017.04,150.4],[2017.71,150.7],[2018.25,150.4],[2018.79,149.9],[2019.12,149.3]];

const RED = '#c00000', GREEN = '#00b050', NAVY = '#002060', BLUE = '#0070c0', AXIS = '#bfbfbf', TICK = '#595959';
const tickFont = { family: 'Liberation Sans, Arial, sans-serif', size: 20 };
const xMin = 1952 + 2 / 12, xMax = 2019.2;
const xTickVals = xLabels.map(s => {
  const [yy, mm] = s.split('-').map(Number);
  return (yy > 30 ? 1900 : 2000) + yy + (mm - 1) / 12;
});

const pts = a => a.map(([x, y]) => ({ x, y }));
function series(label, data, color, axis, extra) {
  return Object.assign({ label, data: pts(data), borderColor: color, backgroundColor: color, borderWidth: 3,
    pointRadius: 0, yAxisID: axis, tension: 0 }, extra || {});
}
function xAxis(show) {
  const ax = {
    type: 'linear', min: xMin, max: xMax, display: show,
    afterBuildTicks: s => { s.ticks = xTickVals.map(v => ({ value: v })); },
    ticks: { autoSkip: false, minRotation: 90, maxRotation: 90, font: { family: tickFont.family, size: 21 },
      color: TICK, padding: 4, callback: (v, i) => xLabels[i] },
    grid: { drawOnChartArea: false, tickLength: 7, color: AXIS, lineWidth: 2 },
    border: { display: false }
  };
  if (show) ax.afterFit = s => { s.height = 72; };
  return ax;
}
function yAxis(pos, min, max, step, width, extra) {
  return Object.assign({
    type: 'linear', position: pos, min, max,
    ticks: { stepSize: step, font: tickFont, color: TICK, padding: 8, callback: v => v.toLocaleString('en-US') },
    grid: { drawOnChartArea: false, tickLength: 6, color: AXIS, lineWidth: 2 },
    border: { display: false },
    afterFit: s => { s.width = width; }
  }, extra || {});
}

// frame, dotted zero line and the shaded recession bands (band span given in canvas pixels or 'area')
const deco = {
  id: 'deco',
  beforeDatasetsDraw(chart, args, opts) {
    const { ctx, chartArea: a } = chart;
    ctx.save();
    ctx.strokeStyle = AXIS; ctx.lineWidth = 2;
    ctx.strokeRect(a.left, a.top, a.right - a.left, a.bottom - a.top);
    if (opts.zero) {
      const y0 = chart.scales.y.getPixelForValue(0);
      ctx.setLineDash([3, 3]);
      ctx.beginPath(); ctx.moveTo(a.left, y0); ctx.lineTo(a.right, y0); ctx.stroke();
    }
    ctx.restore();
  },
  afterDatasetsDraw(chart, args, opts) {
    const { ctx, chartArea: a, scales: { x } } = chart;
    const top = opts.from === 'area' ? a.top : opts.from;
    const bottom = opts.to === 'area' ? a.bottom : opts.to;
    ctx.save();
    ctx.fillStyle = 'rgba(186,186,186,0.35)';
    for (const [s, e] of recessions) {
      const x0 = x.getPixelForValue(s), x1 = x.getPixelForValue(e);
      ctx.fillRect(x0, top, x1 - x0, bottom - top);
    }
    ctx.restore();
  }
};

function baseOptions(padding, scales, deco) {
  return {
    responsive: false, animation: false, devicePixelRatio: 1, events: [],
    layout: { padding },
    plugins: { legend: { display: false }, tooltip: { enabled: false }, deco },
    scales
  };
}

new Chart(document.getElementById('c1'), {
  type: 'line',
  data: { datasets: [
    series('GDP:不变价:同比', gdp, RED, 'y'),
    series('核心CPI:同比', coreCpi, GREEN, 'y'),
    series('联邦基金利率', fedFunds, NAVY, 'y')
  ] },
  options: baseOptions({ top: 22, bottom: 23, right: 132, left: 0 }, {
    x: xAxis(false),
    y: yAxis('left', -5, 20, 5, 194)
  }, { zero: true, from: 'area', to: 450 }),
  plugins: [deco]
});

new Chart(document.getElementById('c2'), {
  type: 'line',
  data: { datasets: [
    series('房价指数（左二）', housePrice, GREEN, 'y2', { pointRadius: 5, pointStyle: 'rectRot', pointBorderWidth: 1 }),
    series('纳斯达克综合指数（右）', nasdaq, RED, 'yR'),
    series('道琼斯工业平均指数（左一）', dow, BLUE, 'y'),
    series('标准普尔500指数（右）', spx, NAVY, 'yR')
  ] },
  options: baseOptions({ top: 25, bottom: 25, right: 0, left: 0 }, {
    x: xAxis(false),
    y: yAxis('left', 0, 30000, 5000, 106, { weight: 0 }),
    y2: yAxis('left', 0, 300, 50, 88, {
      weight: 1,
      grid: { drawOnChartArea: false, tickLength: 6, color: GREEN, lineWidth: 2 },
      border: { display: true, color: GREEN, width: 2 }
    }),
    yR: yAxis('right', 0, 9000, 1000, 132)
  }, { from: 10, to: 420 }),
  plugins: [deco]
});

new Chart(document.getElementById('c3'), {
  type: 'line',
  data: { datasets: [
    series('私人部门信贷占GDP比率（右）', privCredit, RED, 'yR', { pointRadius: 4.5, pointStyle: 'triangle', pointBorderWidth: 1 }),
    series('杠杆率:政府部门（左）', govLev, GREEN, 'y'),
    series('杠杆率:居民部门(左)', hhLev, BLUE, 'y'),
    series('杠杆率:非金融企业部门（左）', corpLev, NAVY, 'y')
  ] },
  options: baseOptions({ top: 36, bottom: 0, right: 0, left: 0 }, {
    x: xAxis(true),
    y: yAxis('left', 0, 120, 20, 194),
    yR: yAxis('right', 60, 180, 20, 132)
  }, { from: 0, to: 'area' }),
  plugins: [deco]
});
</script>
</body>
</html>
